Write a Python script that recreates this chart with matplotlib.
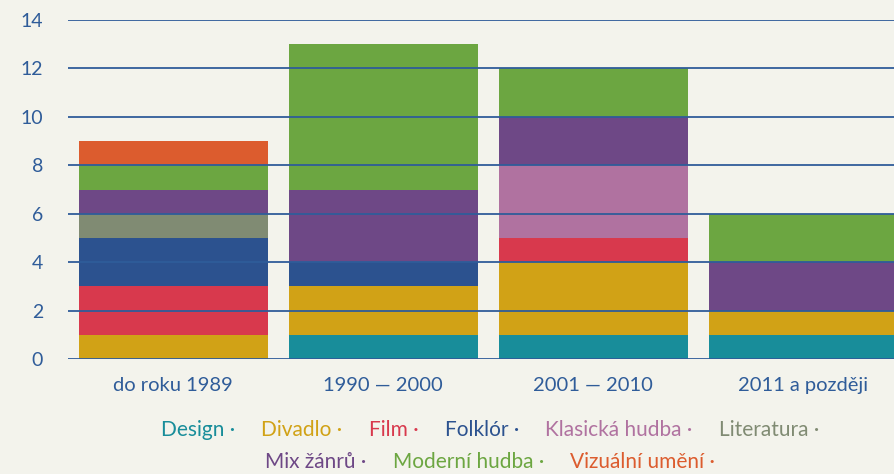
import matplotlib.pyplot as plt
from matplotlib.offsetbox import TextArea, HPacker, VPacker, AnchoredOffsetbox

plt.rcParams['font.family'] = ['Lato', 'DejaVu Sans']

# data
periods = ['do roku 1989', '1990 — 2000', '2001 — 2010', '2011 a později']
genres = ['Design', 'Divadlo', 'Film', 'Folklór', 'Klasická hudba', 'Literatura',
          'Mix žánrů', 'Moderní hudba', 'Vizuální umění']
design = [0, 1, 1, 1]
divadlo = [1, 2, 3, 1]
film = [2, 0, 1, 0]
folklor = [2, 1, 0, 0]
klasicka = [0, 0, 3, 0]
literatura = [1, 0, 0, 0]
mix = [1, 3, 2, 2]
moderni = [1, 6, 2, 2]
vizualni = [1, 0, 0, 0]
values = [design, divadlo, film, folklor, klasicka, literatura, mix, moderni, vizualni]
colors = ['#188d9a', '#d1a216', '#d8394d', '#2c528f', '#b072a0', '#808b73',
          '#6e4886', '#6ca641', '#dc5c2e']

bg = '#f3f3ec'
blue = '#2f5c99'

fig = plt.figure(figsize=(8.95, 4.74), dpi=100, facecolor=bg)
ax = fig.add_axes([68/895, 115/474, 1 - 68/895, (359-20)/474])
ax.set_facecolor(bg)

x = range(len(periods))
bottom = [0] * len(periods)
for vals, c in zip(values, colors):
    ax.bar(x, vals, width=0.9, bottom=bottom, color=c, zorder=2)
    bottom = [b + v for b, v in zip(bottom, vals)]

for yv in range(0, 15, 2):
    ax.axhline(yv, color=blue, lw=1.3, zorder=3)

ax.set_ylim(0, 14)
ax.set_xlim(-0.5, 3.438)
ax.set_yticks(range(0, 15, 2))
ax.set_xticks(list(x))
ax.set_xticklabels(periods)
ax.tick_params(axis='y', length=0, pad=18, labelsize=14, labelcolor=blue)
ax.tick_params(axis='x', length=0, pad=13, labelsize=14.5, labelcolor=blue)
for s in ax.spines.values():
    s.set_visible(False)

# legend as coloured text
def item(name, c):
    return TextArea(name + ' ·', textprops=dict(color=c, fontsize=15))

row1 = HPacker(children=[item(g, c) for g, c in zip(genres[:6], colors[:6])],
               sep=19, pad=0, align='center')
row2 = HPacker(children=[item(g, c) for g, c in zip(genres[6:], colors[6:])],
               sep=19, pad=0, align='center')
legend = VPacker(children=[row1, row2], sep=8, pad=0, align='center')
box = AnchoredOffsetbox(loc='center', child=legend, frameon=False,
                        bbox_to_anchor=(490/895, 28/474),
                        bbox_transform=fig.transFigure, borderpad=0, pad=0)
fig.add_artist(box)

fig.savefig('out.png', dpi=100, facecolor=bg)
